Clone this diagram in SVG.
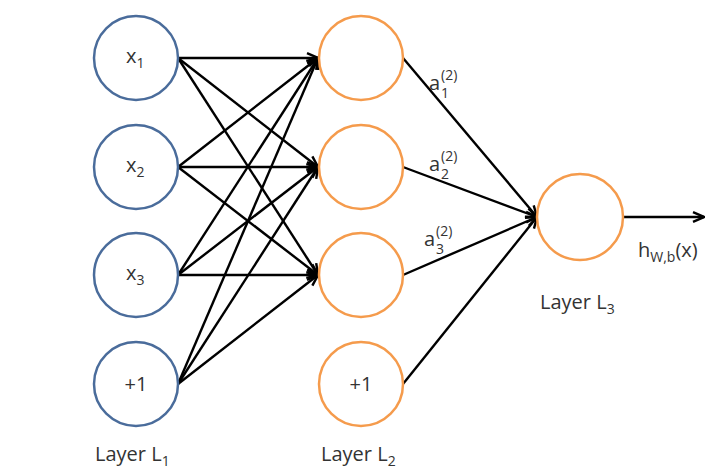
<svg xmlns="http://www.w3.org/2000/svg" width="727" height="470" viewBox="0 0 727 470">
<style>
.l1{fill:#fff;stroke:#4a6c9b;stroke-width:2.5}
.l2{fill:#fff;stroke:#f59b4c;stroke-width:2.5}
.t{font-family:"Open Sans","Liberation Sans",sans-serif;font-size:20px;fill:#333}
.s{font-size:14px}
.c{stroke:#000;stroke-width:2.4;fill:none}
</style>
<defs>
<marker id="ah" viewBox="0 0 12 12" refX="11" refY="6" markerWidth="5.5" markerHeight="5.5" markerUnits="strokeWidth" orient="auto">
<path d="M1,1.5 L11,6 L1,10.5" fill="none" stroke="#000" stroke-width="2.2"/>
</marker>
</defs>
<rect width="727" height="470" fill="#fff"/>
<g id="connectors" class="c" marker-end="url(#ah)">
<line x1="178" y1="58" x2="318" y2="58"/>
<line x1="178" y1="58" x2="318" y2="167"/>
<line x1="178" y1="58" x2="318" y2="275"/>
<line x1="178" y1="167" x2="318" y2="58"/>
<line x1="178" y1="167" x2="318" y2="167"/>
<line x1="178" y1="167" x2="318" y2="275"/>
<line x1="178" y1="275" x2="318" y2="58"/>
<line x1="178" y1="275" x2="318" y2="167"/>
<line x1="178" y1="275" x2="318" y2="275"/>
<line x1="178" y1="384" x2="318" y2="58"/>
<line x1="178" y1="384" x2="318" y2="167"/>
<line x1="178" y1="384" x2="318" y2="275"/>
<line x1="403" y1="58" x2="537" y2="217"/>
<line x1="403" y1="167" x2="537" y2="217"/>
<line x1="403" y1="275" x2="537" y2="217"/>
<line x1="403" y1="384" x2="537" y2="217"/>
<line x1="623" y1="217" x2="704" y2="217"/>
</g>
<g id="x1"><circle class="l1" cx="136" cy="58" r="42"/><text class="t" x="126" y="63">x<tspan class="s" dy="5">1</tspan></text></g>
<g id="x2"><circle class="l1" cx="136" cy="167" r="42"/><text class="t" x="126" y="172">x<tspan class="s" dy="5">2</tspan></text></g>
<g id="x3"><circle class="l1" cx="136" cy="275" r="42"/><text class="t" x="126" y="280">x<tspan class="s" dy="5">3</tspan></text></g>
<g id="b1"><circle class="l1" cx="136" cy="384" r="42"/><text class="t" x="136" y="391" text-anchor="middle">+1</text></g>
<g id="h1"><circle class="l2" cx="361" cy="58" r="42"/></g>
<g id="h2"><circle class="l2" cx="361" cy="167" r="42"/></g>
<g id="h3"><circle class="l2" cx="361" cy="275" r="42"/></g>
<g id="b2"><circle class="l2" cx="361" cy="384" r="42"/><text class="t" x="361" y="391" text-anchor="middle">+1</text></g>
<g id="out"><circle class="l2" cx="580" cy="217" r="43"/></g>
<g id="labels">
<text class="t" x="429" y="90">a<tspan class="s" x="441" y="98">1</tspan><tspan class="s" x="441" y="80">(2)</tspan></text>
<text class="t" x="429" y="171">a<tspan class="s" x="441" y="179">2</tspan><tspan class="s" x="441" y="161">(2)</tspan></text>
<text class="t" x="424" y="246">a<tspan class="s" x="436" y="254">3</tspan><tspan class="s" x="436" y="236">(2)</tspan></text>
<text class="t" x="638" y="257">h<tspan class="s" dy="5">W,b</tspan><tspan dy="-5">(x)</tspan></text>
<text class="t" x="95" y="461">Layer L<tspan class="s" dy="5">1</tspan></text>
<text class="t" x="321" y="461">Layer L<tspan class="s" dy="5">2</tspan></text>
<text class="t" x="540" y="309">Layer L<tspan class="s" dy="5">3</tspan></text>
</g>
</svg>
